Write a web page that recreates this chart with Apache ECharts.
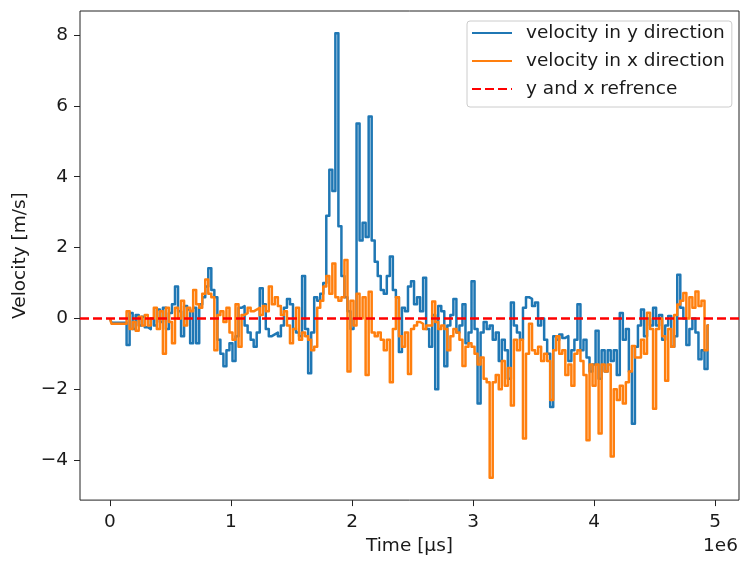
<!DOCTYPE html>
<html>
<head>
<meta charset="utf-8">
<script src="https://cdn.jsdelivr.net/npm/echarts@6/dist/echarts.min.js"></script>
<style>
html,body{margin:0;padding:0;background:#fff;}
#chart{width:741px;height:561px;}
</style>
</head>
<body>
<div id="chart"></div>
<script>
// sampling step of the recorded signal (µs)
const sampleStep = 25000;

// velocity in y direction (m/s), one value per sample
const velY = [
  0.0, -0.12, -0.12, -0.12,
  -0.12, -0.12, -0.75, 0.15,
  -0.3, 0.1, -0.2, 0.05,
  -0.25, -0.3, 0.0, -0.2,
  0.25, -0.1, 0.3, -0.3,
  0.15, 0.4, 0.9, 0.2,
  -0.5, 0.35, 0.25, -0.7,
  0.3, -0.7, 0.4, 0.6,
  0.9, 1.42, 0.8, 0.6,
  -0.6, -1.0, -1.35, -0.9,
  -0.7, -1.2, -0.5, 0.3,
  0.35, -0.2, -0.4, -0.6,
  -0.8, -0.4, 0.85, 0.4,
  -0.3, -0.5, -0.45, -0.4,
  -0.5, -0.2, 0.3, 0.55,
  0.4, -0.3, -0.4, -0.5,
  1.2, -0.3, -1.55, -0.4,
  0.6, 0.5, 0.7, 1.0,
  2.9, 4.2, 3.6, 8.05,
  2.6, 1.2, 0.6, 0.2,
  -0.3, 0.0, 5.5, 2.2,
  2.7, 2.3, 5.7, 2.2,
  1.6, 1.2, 0.8, 0.7,
  1.2, 1.75, 0.8, 0.6,
  -0.95, 0.3, 0.2, 0.9,
  1.05, 0.4, 0.6, 0.2,
  1.15, -0.3, -0.8, 0.1,
  -2.0, 0.35, 0.2, -1.35,
  -0.2, 0.1, 0.55, -0.4,
  -0.2, 0.4, -0.7, -0.4,
  1.05, -0.3, -2.4, -0.4,
  -0.1, -0.3, -0.2, -0.6,
  -0.4, -1.2, -0.6, -0.9,
  -1.7, 0.45, -0.2, -0.4,
  -0.6, 0.3, 0.6, 0.55,
  0.35, 0.45, -0.2, 0.0,
  -0.6, -1.0, -2.5, -0.5,
  -0.6, -0.45, -0.55, -0.5,
  -1.2, -0.9, -0.6, 0.4,
  -0.9, -0.6, -1.1, -1.5,
  -1.3, -0.35, -1.7, -0.9,
  -1.5, -0.9, -1.2, -0.9,
  -1.6, 0.15, -0.6, -0.3,
  -1.5, -2.97, -0.8, -0.2,
  0.25, -0.5, 0.0, -0.2,
  0.3, -0.2, 0.1, -0.6,
  -0.2, 0.07, -0.8, -0.5,
  1.23, 0.3, 0.0, -0.75,
  -0.3, 0.0, -0.4, -1.15,
  -0.9, -1.43, -0.2
];

// velocity in x direction (m/s), one value per sample
const velX = [
  0.0, -0.15, -0.15, -0.15,
  -0.15, -0.15, 0.2, -0.3,
  -0.1, -0.35, 0.05, -0.2,
  0.1, -0.2, 0.0, 0.3,
  -0.3, 0.2, -1.0, 0.3,
  -0.1, -0.7, 0.3, 0.0,
  0.5, -0.2, 0.3, 0.2,
  0.8, 0.4, 0.3, 0.7,
  1.1, 0.7, 0.6, -0.9,
  0.1, 0.2, -0.1, 0.3,
  -0.4, -0.6, 0.4, -0.8,
  0.1, 0.15, 0.3, 0.2,
  0.25, 0.3, 0.1, 0.35,
  0.2, 0.9, 0.4, 0.6,
  0.35, 0.1, 0.2, -0.2,
  -0.7, -0.3, 0.3, -0.6,
  -0.4, -0.5, -0.6, -0.9,
  -0.8, 0.3, 0.5, 0.9,
  1.2, 0.7, 1.55, 0.6,
  0.5, 0.6, 1.65, -1.5,
  0.5, -0.2, 0.7, 0.0,
  0.6, -1.6, 0.75, -0.4,
  -0.5, -0.4, -0.6, -0.9,
  -0.6, -1.8, -0.3, 0.6,
  -0.5, -0.8, -0.4, -1.57,
  -0.3, -0.2, -0.1, -0.15,
  -0.3, -0.2, -0.2, 0.48,
  -0.1, -0.3, -0.2, -0.3,
  -0.9, -0.5, -0.3, -0.4,
  -0.6, -1.34, -0.8, -0.7,
  -0.8, -1.0, -1.3, -1.1,
  -1.7, -1.8, -4.5, -1.8,
  -1.6, -2.0, -1.2, -1.9,
  -1.4, -2.46, -0.6, -0.9,
  -0.6, -3.39, -1.0, -0.15,
  -0.9, -1.0, -0.8, -1.2,
  -1.0, -1.2, -2.3, -0.9,
  -0.5, -1.0, -0.9, -1.6,
  -1.3, -1.9, -1.0, -0.9,
  -1.2, -1.6, -3.44, -1.3,
  -1.9, -1.3, -3.25, -1.3,
  -1.5, -1.3, -3.9, -2.0,
  -2.3, -1.9, -2.4, -1.8,
  -1.5, -0.78, -1.1, -1.1,
  -0.6, -1.0, 0.16, -0.3,
  -2.55, -0.3, 0.0, -0.5,
  -1.76, -0.3, -0.8, 0.1,
  0.39, 0.5, 0.72, 0.0,
  0.6, 0.3, 0.76, 0.35,
  0.5, -0.9, -0.2
];

// reference level (m/s)
const referenceLevel = 0;

// tick values
const xTicks = [0, 1000000, 2000000, 3000000, 4000000, 5000000];
const yTicks = [-4, -2, 0, 2, 4, 6, 8];

const seriesNames = ['velocity in y direction', 'velocity in x direction', 'y and x refrence'];

const timeUs = velY.map((_, i) => i * sampleStep);
const pairsY = velY.map((v, i) => [timeUs[i], v]);
const pairsX = velX.map((v, i) => [timeUs[i], v]);

// axis ranges with 5% margins (matplotlib style)
const tMin = Math.min(...timeUs), tMax = Math.max(...timeUs);
const allV = velY.concat(velX);
const vMin = Math.min(...allV), vMax = Math.max(...allV);
const xPad = (tMax - tMin) * 0.05, yPad = (vMax - vMin) * 0.05;

const FONT = 'DejaVu Sans';
const FS = 18.5;
const TXT = '#1a1a1a';
const LW = 2.5;

const chart = echarts.init(document.getElementById('chart'), null, {renderer: 'canvas'});
chart.setOption({
  animation: false,
  backgroundColor: '#fff',
  textStyle: {fontFamily: FONT},
  grid: {left: 80, right: 2, top: 11, bottom: 59, show: true, borderColor: '#222', borderWidth: 1, backgroundColor: 'transparent', containLabel: false},
  legend: {
    orient: 'vertical',
    left: 467, top: 21,
    padding: [2, 7, 8, 4],
    itemWidth: 40, itemHeight: 20, itemGap: 8,
    backgroundColor: 'rgba(255,255,255,0.8)',
    borderColor: '#cccccc', borderWidth: 1, borderRadius: 3,
    itemStyle: {color: 'rgba(0,0,0,0)', borderColor: 'rgba(0,0,0,0)', borderWidth: 0},
    textStyle: {fontFamily: FONT, fontSize: FS, color: TXT, lineHeight: 20, padding: [0, 0, 0, 9]},
    data: seriesNames
  },
  xAxis: {
    type: 'value',
    min: tMin - xPad, max: tMax + xPad,
    name: 'Time [µs]', nameLocation: 'middle', nameGap: 36,
    nameTextStyle: {fontFamily: FONT, fontSize: FS, color: TXT},
    axisLine: {show: false, onZero: false},
    splitLine: {show: false},
    axisTick: {show: true, length: 6, customValues: xTicks, lineStyle: {color: '#222', width: 1}},
    axisLabel: {customValues: xTicks, margin: 13, fontFamily: FONT, fontSize: FS, color: TXT,
      formatter: v => String(Math.round(v / 1e6))}
  },
  yAxis: {
    type: 'value',
    min: vMin - yPad, max: vMax + yPad,
    name: 'Velocity [m/s]', nameLocation: 'middle', nameGap: 48, nameRotate: 90,
    nameTextStyle: {fontFamily: FONT, fontSize: FS, color: TXT},
    axisLine: {show: false, onZero: false},
    splitLine: {show: false},
    axisTick: {show: true, length: 6, customValues: yTicks, lineStyle: {color: '#222', width: 1}},
    axisLabel: {customValues: yTicks, margin: 12, fontFamily: FONT, fontSize: FS, color: TXT,
      formatter: v => (v < 0 ? '\u2212' + Math.abs(v) : String(v))}
  },
  graphic: [{
    type: 'text', right: 3, top: 537,
    style: {text: '1e6', font: FS + 'px "DejaVu Sans"', fill: TXT}
  }],
  series: [
    {name: seriesNames[0], type: 'line', data: pairsY, symbol: 'none', step: 'middle', color: '#1f77b4',
      lineStyle: {color: '#1f77b4', width: LW, join: 'round'}, z: 2},
    {name: seriesNames[1], type: 'line', data: pairsX, symbol: 'none', step: 'middle', color: '#ff7f0e',
      lineStyle: {color: '#ff7f0e', width: LW, join: 'round'}, z: 3},
    {name: seriesNames[2], type: 'line', data: [], symbol: 'none', color: '#ff0000',
      lineStyle: {color: '#ff0000', width: LW, type: [9, 4]}, z: 4,
      markLine: {silent: true, symbol: 'none', label: {show: false},
        lineStyle: {color: '#ff0000', width: LW, type: [9, 4]},
        data: [{yAxis: referenceLevel}]}}
  ]
});
</script>
</body>
</html>
